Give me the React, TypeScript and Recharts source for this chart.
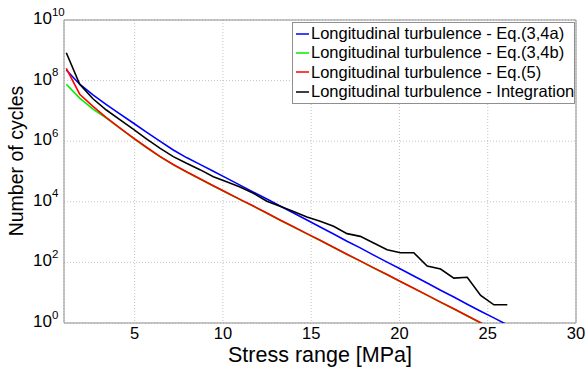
import React from 'react';
import { LineChart, Line, XAxis, YAxis, CartesianGrid, ReferenceArea, Legend } from 'recharts';

// Stress range [MPa] (x)
const stressRange = [
  1.13, 1.89, 2.64, 3.4, 4.16, 4.92, 5.67, 6.43, 7.19, 7.94, 8.7, 9.46, 10.21, 10.97, 11.73, 12.49, 13.24,
  14.0, 14.76, 15.51, 16.27, 17.03, 17.78, 18.54, 19.3, 20.06, 20.81, 21.57, 22.33, 23.08, 23.84, 24.6, 25.35, 26.11,
];

// Number of cycles
const eq34a = [
  2.24e8, 7.59e7, 3.39e7, 1.62e7, 7.94e6, 3.98e6, 2.0e6, 1.0e6, 5.13e5, 2.88e5, 1.72e5, 1.02e5, 6.03e4, 3.55e4,
  2.09e4, 1.23e4, 7.24e3, 4.27e3, 2.51e3, 1.48e3, 871, 501, 302, 174, 102, 60.3, 35.5, 20.9, 12.0, 7.24, 4.17,
  2.45, 1.48, 0.87,
];
const eq34b = [
  7.59e7, 2.63e7, 1.15e7, 5.75e6, 2.69e6, 1.26e6, 6.2e5, 3.1e5, 1.66e5, 9.6e4, 5.65e4, 3.33e4, 2.0e4, 1.18e4,
  7.1e3, 4.2e3, 2.47e3, 1.48e3, 876, 528, 311, 183, 110, 65, 39.1, 23.0, 13.9, 8.18, 4.82, 2.9, 1.71, 1.0, 0.59,
  0.34,
];
const eq5 = [
  2.51e8, 3.55e7, 1.41e7, 6.03e6, 2.75e6, 1.29e6, 6.31e5, 3.16e5, 1.7e5, 9.77e4, 5.75e4, 3.39e4, 2.04e4, 1.2e4,
  7.24e3, 4.27e3, 2.51e3, 1.51e3, 891, 537, 316, 186, 112, 66.1, 39.8, 23.4, 14.1, 8.32, 4.9, 2.95, 1.74, 1.02,
  0.6, 0.35,
];
const integration = [
  8.32e8, 7.59e7, 2.51e7, 1.07e7, 5.13e6, 2.51e6, 1.2e6, 5.89e5, 3.09e5, 1.86e5, 1.15e5, 6.76e4, 4.57e4, 3.09e4,
  1.91e4, 1.05e4, 7.08e3, 4.79e3, 3.16e3, 2.29e3, 1.55e3, 891, 724, 437, 263, 209, 209, 75.9, 60.3, 30.2, 32.4,
  8.13, 3.98, 3.98,
];

const xTicks = [5, 10, 15, 20, 25, 30];
const yTicks = [1, 1e2, 1e4, 1e6, 1e8, 1e10];

const series = [
  { key: 'eq34a', name: 'Longitudinal turbulence - Eq.(3,4a)', color: '#0000ff', values: eq34a },
  { key: 'eq34b', name: 'Longitudinal turbulence - Eq.(3,4b)', color: '#00ee00', values: eq34b },
  { key: 'eq5', name: 'Longitudinal turbulence - Eq.(5)', color: '#ff0000', values: eq5 },
  { key: 'integration', name: 'Longitudinal turbulence - Integration', color: '#000000', values: integration },
];

const data = stressRange.map((x, i) => {
  const row: Record<string, number> = { x };
  series.forEach((s) => {
    row[s.key] = s.values[i];
  });
  return row;
});

const FONT = '"Liberation Sans", Arial, sans-serif';

const YTick = (props: any) => {
  const { y, payload } = props;
  const exp = Math.round(Math.log10(payload.value));
  return (
    <text x={33} y={y + 4} fontFamily={FONT} fontSize={17} fill="#000">
      10
      <tspan dy={-8.5} fontSize={11.5}>
        {exp}
      </tspan>
    </text>
  );
};

const XTick = (props: any) => {
  const { x, payload } = props;
  return (
    <text x={x} y={338.5} textAnchor="middle" fontFamily={FONT} fontSize={16.5} fill="#000">
      {payload.value}
    </text>
  );
};

const XLabel = () => (
  <text x={320} y={362} textAnchor="middle" fontFamily={FONT} fontSize={21.5} fill="#000">
    Stress range [MPa]
  </text>
);

const YLabel = () => (
  <text
    x={0}
    y={0}
    transform="translate(23,161) rotate(-90)"
    textAnchor="middle"
    fontFamily={FONT}
    fontSize={19.5}
    fill="#000"
  >
    Number of cycles
  </text>
);

const LegendBox = () => (
  <div
    style={{
      border: '1px solid #8f8f8f',
      background: '#fff',
      padding: '1px 0 2px 3px',
      fontFamily: FONT,
      fontSize: 16.5,
      lineHeight: '19.3px',
      color: '#000',
      whiteSpace: 'nowrap',
      boxSizing: 'border-box',
      width: 283,
    }}
  >
    {series.map((s) => (
      <div key={s.key} style={{ display: 'flex', alignItems: 'center', height: 19.3 }}>
        <svg width={15} height={10} style={{ flex: 'none' }}>
          <line x1={0} y1={5} x2={13} y2={5} stroke={s.color} strokeWidth={1.5} />
        </svg>
        <span>{s.name}</span>
      </div>
    ))}
  </div>
);

export default function App() {
  return (
    <div style={{ position: 'absolute', left: 0, top: 0, width: 586, height: 369, background: '#fff' }}>
      <LineChart width={586} height={369} data={data} margin={{ top: 20, right: 10, bottom: 0, left: 0 }}>
        <CartesianGrid stroke="#c4c4c4" strokeDasharray="1 2" />
        <XAxis
          dataKey="x"
          type="number"
          domain={[1, 30]}
          ticks={xTicks}
          allowDataOverflow
          axisLine={false}
          tickLine={false}
          height={46}
          tick={<XTick />}
          label={<XLabel />}
        />
        <YAxis
          type="number"
          scale="log"
          domain={[1, 1e10]}
          ticks={yTicks}
          allowDataOverflow
          axisLine={false}
          tickLine={false}
          width={64}
          tick={<YTick />}
          label={<YLabel />}
        />
        <ReferenceArea x1={1} x2={30} y1={1} y2={1e10} fill="none" stroke="#8f8f8f" strokeWidth={1} />
        {series.map((s) => (
          <Line
            key={s.key}
            dataKey={s.key}
            name={s.name}
            type="linear"
            stroke={s.color}
            strokeWidth={1.6}
            dot={false}
            isAnimationActive={false}
          />
        ))}
        <Legend
          layout="vertical"
          align="center"
          verticalAlign="middle"
          content={<LegendBox />}
          wrapperStyle={{ position: 'absolute', left: 292, top: 22, width: 283, height: 'auto' }}
        />
      </LineChart>
    </div>
  );
}
